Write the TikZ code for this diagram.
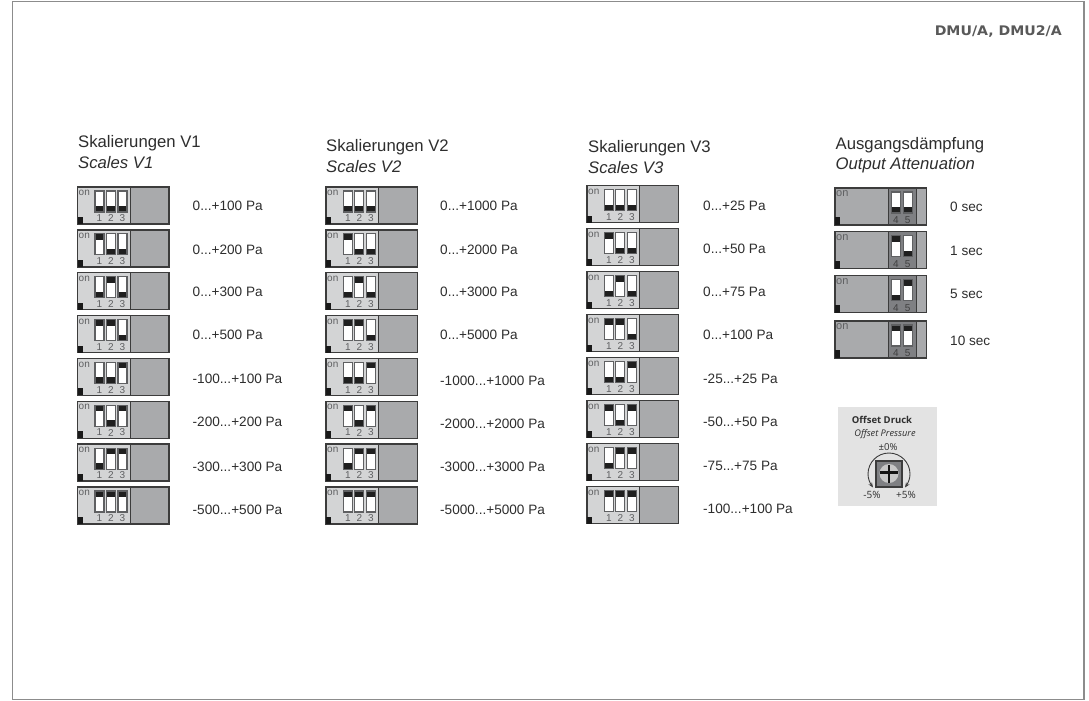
\documentclass[tikz,border=0pt]{standalone}
\usepackage{fontspec}
\setmainfont{Liberation Sans}
\newfontfamily\offsetfont{Open Sans}
\newfontfamily\dmufont[FakeStretch=1.07]{DejaVu Sans}
\usetikzlibrary{arrows.meta}
\definecolor{lightp}{HTML}{D3D4D5}
\definecolor{darkp}{HTML}{A9AAAC}
\definecolor{blockc}{HTML}{7F8083}
\definecolor{edge}{HTML}{3C3C3C}
\definecolor{txt}{HTML}{2E2E2E}
\definecolor{numc}{HTML}{5F6062}
\def\dd{...}
\tikzset{
  x=1pt,y=-1pt,
  lbl/.style={anchor=west,inner sep=0pt,text=txt,font=\fontsize{13.6}{15}\selectfont},
  ttl/.style={anchor=west,inner sep=0pt,text=txt,font=\fontsize{16.7}{18}\selectfont},
  ttli/.style={ttl,font=\fontsize{16.7}{18}\selectfont\itshape},
  onlbl/.style={anchor=west,inner sep=0pt,text=numc,font=\fontsize{10}{11}\selectfont},
  numl/.style={inner sep=0pt,text=numc,font=\fontsize{10}{11}\selectfont},
  boxl/.style={draw=edge,line width=1.3pt},
  slot/.style={draw=numc,fill=white,line width=1.1pt},
  offs/.style={inner sep=0pt,font=\offsetfont\fontsize{9.5}{11}\selectfont,text=txt},
}
% #1 = switch left offset, #2 = state (1 up, 0 down), #3 box x, #4 box y
\newcommand{\dipslot}[4]{%
  \draw[slot] (#3+#1,#4+4) rectangle (#3+#1+9,#4+25);
  \ifnum#2=1
    \fill[black!88] (#3+#1+0.6,#4+4.6) rectangle (#3+#1+8.4,#4+10);
  \else
    \fill[black!88] (#3+#1+0.6,#4+19) rectangle (#3+#1+8.4,#4+24.4);
  \fi
}
\newcommand{\dipbox}[5]{%
  \fill[lightp] (#1,#2) rectangle (#1+52.5,#2+37);
  \fill[darkp] (#1+52.5,#2) rectangle (#1+91.5,#2+37);
  \draw[boxl] (#1,#2) rectangle (#1+91.5,#2+37);
  \draw[edge,line width=0.9pt] (#1+52.5,#2) -- (#1+52.5,#2+37);
  \fill[black!90] (#1,#2+30) rectangle (#1+5,#2+37);
  \node[onlbl] at (#1+1,#2+6) {on};
  \dipslot{17.5}{#3}{#1}{#2}
  \dipslot{28.8}{#4}{#1}{#2}
  \dipslot{40.5}{#5}{#1}{#2}
  \node[numl] at (#1+22,#2+31.3) {1};
  \node[numl] at (#1+33.3,#2+31.3) {2};
  \node[numl] at (#1+45,#2+31.3) {3};
}
\newcommand{\attbox}[4]{%
  \fill[darkp] (#1,#2) rectangle (#1+91.5,#2+37);
  \fill[blockc] (#1+53,#2) rectangle (#1+81,#2+37);
  \draw[boxl] (#1,#2) rectangle (#1+91.5,#2+37);
  \draw[edge,line width=0.7pt] (#1+53,#2) -- (#1+53,#2+37) (#1+81,#2) -- (#1+81,#2+37);
  \fill[black!90] (#1,#2+29) rectangle (#1+5,#2+37);
  \node[onlbl,font=\fontsize{11}{12}\selectfont] at (#1+1,#2+6) {on};
  \dipslot{56.7}{#3}{#1}{#2}
  \dipslot{68.5}{#4}{#1}{#2}
  \node[numl,text=black!75] at (#1+61,#2+32) {4};
  \node[numl,text=black!75] at (#1+72.7,#2+32) {5};
}
\begin{document}
\begin{tikzpicture}
\useasboundingbox (0,0) rectangle (1089,701);
\fill[white] (0,0) rectangle (1089,701);
\draw[gray!90,line width=1.1pt] (12.5,1.5) rectangle (1084,699.5);
\node[anchor=east,inner sep=0pt,text=black!65,font=\dmufont\bfseries\fontsize{13.2}{15}\selectfont] (dmu) at (1062,32) {DMU/A, DMU2/A};

\node[ttl]  (t1a) at (78,143.4) {Skalierungen V1};
\node[ttli] (t1b) at (78,162.7) {Scales V1};
\node[ttl]  (t2a) at (326,147.5) {Skalierungen V2};
\node[ttli] (t2b) at (326,166.5) {Scales V2};
\node[ttl]  (t3a) at (588,148.5) {Skalierungen V3};
\node[ttli] (t3b) at (588,167.5) {Scales V3};
\node[ttl]  (t4a) at (835.5,145) {Ausgangsdämpfung};
\node[ttli] (t4b) at (835.5,165) {Output Attenuation};

% states by row
\foreach \bx/\by/\pitch in {77.5/187/42.85,326/187/42.85,587/185.5/43}{
  \foreach \r/\a/\b/\c in {0/0/0/0,1/1/0/0,2/0/1/0,3/1/1/0,4/0/0/1,5/1/0/1,6/0/1/1,7/1/1/1}{
    \pgfmathsetmacro{\yy}{\by+\r*\pitch}
    \dipbox{\bx}{\yy}{\a}{\b}{\c}
  }
}
\foreach \yy/\a/\b in {188/0/0,231.7/1/0,275.7/0/1,321/1/1}{
  \attbox{835}{\yy}{\a}{\b}
}

\foreach \yy/\lab [count=\i] in {206/0\dd+100 Pa,249.5/0\dd+200 Pa,292/0\dd+300 Pa,335/0\dd+500 Pa,378.5/-100\dd+100 Pa,421.5/-200\dd+200 Pa,466.5/-300\dd+300 Pa,509.5/-500\dd+500 Pa}{
  \node[lbl] (a\i) at (192.5,\yy) {\lab};
}
\foreach \yy/\lab [count=\i] in {206/0\dd+1000 Pa,249.5/0\dd+2000 Pa,292/0\dd+3000 Pa,335/0\dd+5000 Pa,380.5/-1000\dd+1000 Pa,423.5/-2000\dd+2000 Pa,466.5/-3000\dd+3000 Pa,509.5/-5000\dd+5000 Pa}{
  \node[lbl] (b\i) at (440,\yy) {\lab};
}
\foreach \yy/\lab [count=\i] in {205.5/0\dd+25 Pa,248.5/0\dd+50 Pa,291.5/0\dd+75 Pa,334.5/0\dd+100 Pa,378.5/-25\dd+25 Pa,421.5/-50\dd+50 Pa,465.5/-75\dd+75 Pa,508.5/-100\dd+100 Pa}{
  \node[lbl] (c\i) at (703,\yy) {\lab};
}
\foreach \yy/\lab [count=\i] in {206.7/0 sec,250.7/1 sec,294/5 sec,340.7/10 sec}{
  \node[lbl] (d\i) at (950,\yy) {\lab};
}

% offset panel
\fill[black!11] (838,407) rectangle (937,506);
\node[offs,font=\offsetfont\bfseries\fontsize{9.5}{11}\selectfont] (o1) at (882,420) {Offset Druck};
\node[offs,font=\offsetfont\itshape\fontsize{9.2}{11}\selectfont] (o2) at (885,434) {Offset Pressure};
\node[offs,font=\offsetfont\fontsize{9.6}{10}\selectfont] (o3) at (888,447.5) {±0\%};
\node[offs,font=\offsetfont\fontsize{10}{10}\selectfont] (o4) at (872,495) {-5\%};
\node[offs,font=\offsetfont\fontsize{10}{10}\selectfont] (o5) at (906,495) {+5\%};
\fill[blockc] (876,461) rectangle (902,487);
\draw[edge,line width=1.1pt] (876,461) rectangle (902,487);
\fill[black!22] (889,473.5) circle[radius=9.5];
\draw[black!92,line width=2.2pt] (889,465) -- (889,483) (880,472.5) -- (898,472.5);
\draw[edge,line width=0.9pt,{Stealth[length=5pt,width=4pt]}-{Stealth[length=5pt,width=4pt]}]
  (873,487.5) .. controls (870,483) and (868,479) .. (868,474) .. controls (868,462.4) and (877.4,453) .. (889,453) .. controls (900.6,453) and (910,462.4) .. (910,474) .. controls (910,479) and (908,483) .. (905,487.5);
\end{tikzpicture}
\end{document}
